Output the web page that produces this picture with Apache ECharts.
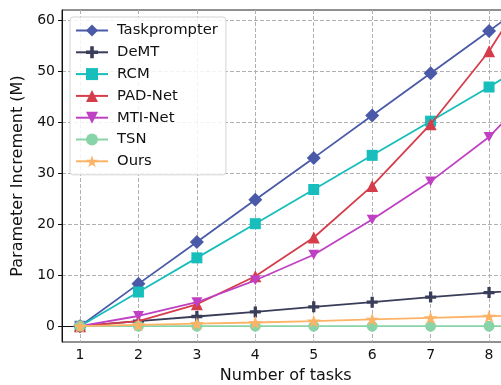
<!DOCTYPE html>
<html><head><meta charset="utf-8">
<script src="https://cdn.jsdelivr.net/npm/echarts@6/dist/echarts.min.js"></script>
<style>html,body{margin:0;padding:0;background:#fff}#c{width:501px;height:385px}</style>
</head><body><div id="c"></div>
<script>
const tasks = [1, 2, 3, 4, 5, 6, 7, 8, 9];
const xTicks = [1, 2, 3, 4, 5, 6, 7, 8];
const yTicks = [0, 10, 20, 30, 40, 50, 60];
const seriesNames = ['Taskprompter', 'DeMT', 'RCM', 'PAD-Net', 'MTI-Net', 'TSN', 'Ours'];
const taskprompter = [0, 8.3, 16.5, 24.8, 33.0, 41.3, 49.6, 57.9, 66.2];
const demt = [0, 1.0, 1.9, 2.8, 3.8, 4.7, 5.7, 6.6, 7.5];
const rcm = [0, 6.7, 13.4, 20.1, 26.8, 33.5, 40.2, 46.9, 54.0];
const padnet = [0, 1.0, 4.3, 9.8, 17.4, 27.5, 39.6, 53.9, 72.0];
const mtinet = [0, 2.0, 4.7, 9.0, 14.0, 20.9, 28.4, 37.1, 49.0];
const tsn = [0, 0, 0, 0, 0, 0, 0, 0, 0];
const ours = [0, 0.25, 0.5, 0.72, 1.0, 1.35, 1.65, 1.95, 2.25];

const values = [taskprompter, demt, rcm, padnet, mtinet, tsn, ours];
const colors = ['#4a5aa8', '#3a3d5a', '#17bebb', '#d63d4b', '#c040c4', '#88d4a8', '#fdb366'];
const plusPath = 'path://M35,0 L65,0 L65,35 L100,35 L100,65 L65,65 L65,100 L35,100 L35,65 L0,65 L0,35 L35,35 Z';
const symbols = ['diamond', plusPath, 'rect', 'triangle', 'path://M0,0 L100,0 L50,90 Z', 'circle', 'path://M50,0 L61.8,36.2 L100,36.2 L69.1,58.6 L80.9,95.1 L50,72.7 L19.1,95.1 L30.9,58.6 L0,36.2 L38.2,36.2 Z'];
const sizes = [14, 11, 11, 12, 11, 11, 14];

const chart = echarts.init(document.getElementById('c'), null, {renderer: 'canvas'});
const font = 'DejaVu Sans';
chart.setOption({
  animation: false,
  textStyle: {fontFamily: font},
  grid: {left: 62, top: 10, right: -8.5, bottom: 43, outerBoundsMode: 'none', containLabel: false,
    show: true, borderColor: '#222', borderWidth: 1, backgroundColor: 'transparent'},
  legend: {
    data: seriesNames,
    orient: 'vertical', left: 70, top: 17,
    itemWidth: 32, itemHeight: 15, itemGap: 6.8,
    padding: [6, 8, 6, 5],
    backgroundColor: 'rgba(255,255,255,0.85)', borderColor: '#d4d4d4', borderWidth: 1, borderRadius: 3,
    lineStyle: {width: 2},
    textStyle: {fontSize: 14.8, color: '#111', fontFamily: font, padding: [0, 0, 0, 4]}
  },
  xAxis: {
    type: 'value', min: 0.692, max: 8.35,
    name: 'Number of tasks', nameLocation: 'middle', nameGap: 26,
    nameTextStyle: {fontSize: 16, color: '#111', fontFamily: font},
    axisLine: {show: true, lineStyle: {color: '#111', width: 1}},
    axisTick: {show: true, length: 4, lineStyle: {color: '#111'}, customValues: xTicks},
    axisLabel: {fontSize: 14, color: '#111', margin: 6, customValues: xTicks, fontFamily: font},
    splitLine: {show: true, lineStyle: {color: '#b0b0b0', type: [4, 2], width: 1}}
  },
  yAxis: {
    type: 'value', min: -3.1, max: 62.0,
    name: 'Parameter Increment (M)', nameLocation: 'middle', nameGap: 28,
    nameTextStyle: {fontSize: 16, color: '#111', fontFamily: font},
    axisLine: {show: true, lineStyle: {color: '#111', width: 1}},
    axisTick: {show: true, length: 4, lineStyle: {color: '#111'}, customValues: yTicks},
    axisLabel: {fontSize: 14, color: '#111', margin: 7, customValues: yTicks, fontFamily: font},
    splitLine: {show: true, lineStyle: {color: '#b0b0b0', type: [4, 2], width: 1}}
  },
  series: seriesNames.map((n, i) => ({
    name: n, type: 'line',
    data: tasks.map((t, j) => [t, values[i][j]]),
    symbol: symbols[i], symbolSize: sizes[i],
    symbolKeepAspect: true,
    showAllSymbol: true,
    clip: true,
    lineStyle: {color: colors[i], width: 1.8},
    itemStyle: {color: colors[i], borderWidth: 0},
    z: 2 + i
  }))
});
</script></body></html>
